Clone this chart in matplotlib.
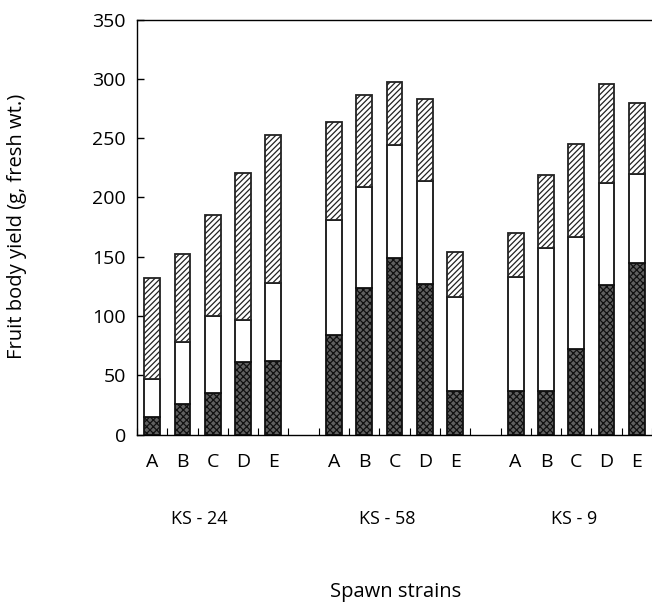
import matplotlib
matplotlib.use("Agg")
import matplotlib.pyplot as plt
import numpy as np

# Spawn strains and substrate groups
groups = ["KS - 24", "KS - 58", "KS - 9"]
strains = ["A", "B", "C", "D", "E"]

# Yield per flush (g, fresh wt.), five strains per group, groups in order above
first_flush = [15, 26, 35, 61, 62,
               84, 124, 149, 127, 37,
               37, 37, 72, 126, 145]
second_flush = [32, 52, 65, 36, 66,
                97, 85, 95, 87, 79,
                96, 120, 95, 86, 75]
third_flush = [85, 74, 85, 124, 125,
               83, 77, 53, 69, 38,
               37, 62, 78, 84, 60]

yticks = [0, 50, 100, 150, 200, 250, 300, 350]

plt.rcParams["font.family"] = ["Open Sans", "DejaVu Sans"]
plt.rcParams["hatch.linewidth"] = 0.9

fig = plt.figure(figsize=(6.52, 6.02), dpi=100)
ax = fig.add_axes([137 / 652, (602 - 434.6) / 602, 515 / 652, 415 / 602])

n = len(strains)
pos = np.concatenate([np.arange(n) + g * (n + 1) for g in range(len(groups))])

f1 = np.array(first_flush, dtype=float)
f2 = np.array(second_flush, dtype=float)
f3 = np.array(third_flush, dtype=float)

w = 0.52
ax.bar(pos, f1, width=w, facecolor="#606060", edgecolor="#111111",
       hatch="xxxxx", linewidth=1.3, zorder=2)
ax.bar(pos, f2, width=w, bottom=f1, facecolor="white", edgecolor="#111111",
       linewidth=1.3, zorder=2)
ax.bar(pos, f3, width=w, bottom=f1 + f2, facecolor="white", edgecolor="#222222",
       hatch="//////", linewidth=1.3, zorder=2)

ax.set_ylim(0, 350)
ax.set_xlim(-0.457, -0.457 + 515 / 30.6)
ax.set_yticks(yticks)
ax.tick_params(axis="y", direction="in", length=5, width=1, labelsize=14, pad=8)

# Strain letters as x tick labels, minor ticks between bars
ax.set_xticks(pos)
ax.set_xticklabels(strains * len(groups))
ax.tick_params(axis="x", which="major", length=0, labelsize=14, pad=13)
ax.set_xticks(np.arange(-0.5, pos[-1] + 1, 1.0), minor=True)
ax.tick_params(axis="x", which="minor", direction="in", length=5, width=0.8)

for sp in ["left", "bottom", "top"]:
    ax.spines[sp].set_linewidth(1.0)
ax.spines["right"].set_visible(False)

# Group labels beneath the strain letters
label_shift = [-0.43, -0.25, -0.08]
for g, name in enumerate(groups):
    center = g * (n + 1) + (n - 1) / 2 + label_shift[g]
    ax.text(center, 1 - 519 / 602, name,
            transform=matplotlib.transforms.blended_transform_factory(ax.transData, fig.transFigure),
            ha="center", va="center", fontsize=13)

ax.set_ylabel("Fruit body yield (g, fresh wt.)", fontsize=14.5)
ax.yaxis.set_label_coords((27 - 137) / 515, (434.6 - 226) / 415)
fig.text(396 / 652, 1 - 592 / 602, "Spawn strains", ha="center", va="center",
         fontsize=14.5)

fig.savefig("out.png", dpi=100)
